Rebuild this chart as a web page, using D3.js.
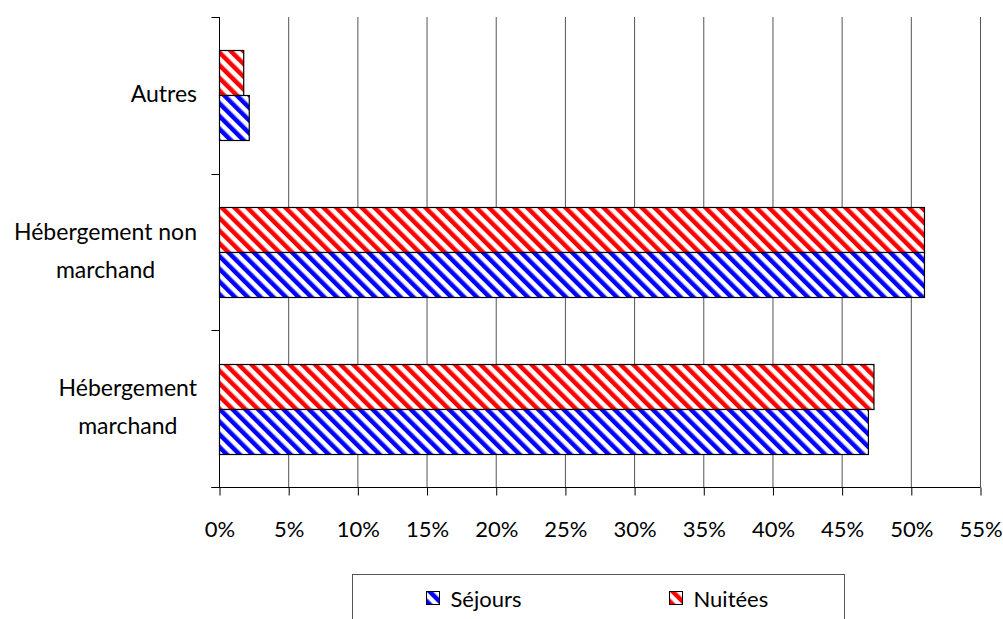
<!DOCTYPE html>
<html>
<head>
<meta charset="utf-8">
<script src="https://cdn.jsdelivr.net/npm/d3@7"></script>
<style>
  body { margin: 0; background: #fff; }
  svg text { font-family: "Lato", "Open Sans", sans-serif; fill: #000; }
</style>
</head>
<body>
<div id="chart"></div>
<script>
"use strict"

// categories top to bottom, each label split in lines
const categories = ["Autres", "Hébergement non marchand", "Hébergement marchand"];
const categoryLines = [["Autres"], ["Hébergement non", "marchand"], ["Hébergement", "marchand"]];
const seriesNames = ["Nuitées", "Séjours"];
const nuitees = [1.75, 50.95, 47.3];
const sejours = [2.15, 50.95, 46.9];
const xTicks = [0, 5, 10, 15, 20, 25, 30, 35, 40, 45, 50, 55];
const legendOrder = ["Séjours", "Nuitées"];

const colors = { "Séjours": "#0000ff", "Nuitées": "#ff0000" };
const seriesValues = { "Séjours": sejours, "Nuitées": nuitees };

const totalWidth = 1003, totalHeight = 619;
const margin = { left: 219, right: 23, top: 17, bottom: 132 };
const width = totalWidth - margin.left - margin.right;
const height = totalHeight - margin.top - margin.bottom;

const svg = d3.select("#chart").append("svg")
  .attr("width", totalWidth)
  .attr("height", totalHeight);

// hatch patterns
const defs = svg.append("defs");
seriesNames.forEach(name => {
  const p = defs.append("pattern")
    .attr("id", "hatch_" + (name === "Séjours" ? "s" : "n"))
    .attr("patternUnits", "userSpaceOnUse")
    .attr("width", 9).attr("height", 9)
    .attr("patternTransform", "rotate(-45)");
  p.append("rect").attr("width", 9).attr("height", 9).attr("fill", "#fff");
  p.append("rect").attr("width", 4.5).attr("height", 9).attr("fill", colors[name]);
});
const fillOf = name => `url(#hatch_${name === "Séjours" ? "s" : "n"})`;

const xScale = d3.scaleLinear().domain([0, 55]).range([0, width]);
const yScale = d3.scaleBand().domain(categories).range([0, height]);
const inner = d3.scaleBand().domain(seriesNames).range([0, 90]);

const g = svg.append("g").attr("transform", `translate(${margin.left},${margin.top})`);

// gridlines
g.append("g").selectAll("line")
  .data(xTicks.slice(1))
  .enter().append("line")
    .attr("x1", d => xScale(d) + 0.5).attr("x2", d => xScale(d) + 0.5)
    .attr("y1", 0).attr("y2", height)
    .attr("stroke", "#555").attr("stroke-width", 1);

// bars
const rows = [];
categories.forEach((c, i) => seriesNames.forEach(s => rows.push({ cat: c, series: s, value: seriesValues[s][i] })));
g.append("g").selectAll("rect")
  .data(rows)
  .enter().append("rect")
    .attr("x", xScale(0) + 0.5)
    .attr("y", d => Math.round(yScale(d.cat) + (yScale.bandwidth() - 90) / 2 + inner(d.series)) + 0.5)
    .attr("width", d => xScale(d.value) - xScale(0))
    .attr("height", inner.bandwidth())
    .attr("fill", d => fillOf(d.series))
    .attr("stroke", "#000").attr("stroke-width", 1.2);

// y axis
const yAxis = g.append("g").attr("transform", "translate(0.5,0)");
yAxis.append("line").attr("y1", 0).attr("y2", height).attr("stroke", "#000");
yAxis.selectAll(".ytick")
  .data(d3.range(categories.length + 1))
  .enter().append("line")
    .attr("x1", -8).attr("x2", 0)
    .attr("y1", d => Math.round(d * yScale.step()) + 0.5)
    .attr("y2", d => Math.round(d * yScale.step()) + 0.5)
    .attr("stroke", "#000");

// x axis
g.append("g")
  .attr("transform", `translate(0.5,${height + 0.5})`)
  .call(d3.axisBottom(xScale).tickValues(xTicks).tickSize(8).tickFormat(d => d + "%"))
  .call(a => a.select(".domain").attr("d", `M-8,0H${width}`).attr("stroke", "#000"))
  .call(a => a.selectAll(".tick line").attr("stroke", "#000"))
  .call(a => a.selectAll(".tick text").attr("y", 34).attr("font-size", 22).attr("font-family", null));

// category labels: block right-aligned, lines centered in block
categoryLines.forEach((lines, i) => {
  const cy = margin.top + yScale(categories[i]) + yScale.bandwidth() / 2 - 1.5;
  const lh = 38;
  const grp = svg.append("g");
  const texts = lines.map((t, j) => grp.append("text")
    .attr("y", cy + (j - (lines.length - 1) / 2) * lh)
    .attr("dy", "0.35em")
    .attr("font-size", 23)
    .attr("text-anchor", "middle")
    .text(t));
  const maxW = d3.max(texts, t => t.node().getComputedTextLength());
  texts.forEach(t => t.attr("x", 197 - maxW / 2));
});

// legend
const legend = svg.append("g").attr("transform", "translate(352.5,574.5)");
legend.append("rect").attr("width", 492).attr("height", 60)
  .attr("fill", "#fff").attr("stroke", "#555");
const legendX = [74, 317];
legendOrder.forEach((name, i) => {
  const lg = legend.append("g").attr("transform", `translate(${legendX[i]},17)`);
  lg.append("rect").attr("width", 13).attr("height", 13)
    .attr("fill", fillOf(name)).attr("stroke", "#000");
  lg.append("text").attr("x", 24).attr("y", 8).attr("dy", "0.35em")
    .attr("font-size", 22).text(name);
});
</script>
</body>
</html>
